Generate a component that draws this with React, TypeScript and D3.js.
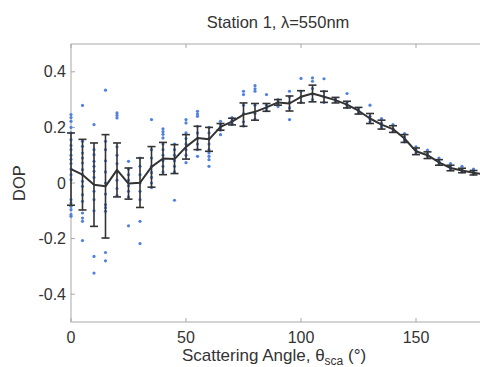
import * as d3 from "d3";

const angles = d3.range(0, 181, 5);
const means = [0.05, 0.03, -0.006, -0.012, 0.047, -0.002, 0.001, 0.058, 0.088, 0.086, 0.13, 0.162, 0.157,
  0.202, 0.221, 0.246, 0.256, 0.272, 0.29, 0.286, 0.31, 0.322, 0.31, 0.298, 0.282, 0.26, 0.232, 0.21,
  0.194, 0.16, 0.114, 0.1, 0.074, 0.054, 0.045, 0.037, 0.03];
const errs = [0.13, 0.127, 0.15, 0.186, 0.097, 0.056, 0.089, 0.073, 0.058, 0.052, 0.044, 0.042, 0.043,
  0.012, 0.012, 0.042, 0.03, 0.014, 0.01, 0.027, 0.022, 0.03, 0.02, 0.01, 0.012, 0.012, 0.018, 0.016,
  0.012, 0.014, 0.012, 0.012, 0.01, 0.01, 0.008, 0.008, 0.008];
const samples = [
  [0.246, 0.235, 0.222, 0.2, 0.18, 0.156, 0.135, 0.12, 0.1, 0.085, 0.07, 0.05, 0.03, 0.012, -0.06, -0.072, -0.084, -0.096, -0.114, -0.12],
  [0.279, 0.15, 0.132, 0.108, 0.09, 0.072, 0.048, 0.03, 0.006, -0.012, -0.042, -0.066, -0.108, -0.126, -0.138, -0.207],
  [0.21, 0.12, 0.102, 0.078, 0.06, 0.042, 0.02, -0.03, -0.06, -0.1, -0.264, -0.324],
  [0.334, 0.15, 0.12, 0.08, 0.04, 0.0, -0.04, -0.078, -0.089, -0.102, -0.25, -0.28],
  [0.252, 0.243, 0.234, 0.13, 0.1, 0.07, 0.04, 0.01, -0.02, -0.045],
  [0.078, 0.05, 0.03, 0.01, -0.01, -0.03, -0.05, -0.154],
  [0.09, 0.06, 0.03, 0.0, -0.03, -0.06, -0.138, -0.218],
  [0.228, 0.12, 0.09, 0.06, 0.037, 0.02, 0.0, -0.017],
  [0.195, 0.185, 0.175, 0.162, 0.14, 0.12, 0.1, 0.08, 0.06, 0.04],
  [0.14, 0.12, 0.1, 0.08, 0.06, 0.04, -0.062],
  [0.228, 0.216, 0.18, 0.16, 0.14, 0.12, 0.1, 0.073],
  [0.258, 0.248, 0.24, 0.204, 0.18, 0.16, 0.14, 0.12, 0.096],
  [0.2, 0.18, 0.16, 0.14, 0.12, 0.108, 0.096, 0.084, 0.06],
  [0.222, 0.21, 0.2, 0.19, 0.174],
  [0.235, 0.225, 0.215, 0.21],
  [0.33, 0.318, 0.28, 0.25, 0.22, 0.205],
  [0.35, 0.339, 0.33, 0.28, 0.25, 0.23],
  [0.318, 0.28, 0.27, 0.26],
  [0.3, 0.29, 0.282, 0.275],
  [0.33, 0.31, 0.29, 0.27, 0.228],
  [0.376, 0.33, 0.31, 0.29],
  [0.378, 0.366, 0.34, 0.32, 0.3],
  [0.375, 0.33, 0.31, 0.29],
  [0.302, 0.298, 0.294],
  [0.322, 0.29, 0.28, 0.272],
  [0.268, 0.26, 0.252],
  [0.28, 0.24, 0.23, 0.22],
  [0.232, 0.215, 0.205, 0.198],
  [0.21, 0.195, 0.185],
  [0.178, 0.165, 0.155, 0.148],
  [0.13, 0.118, 0.108],
  [0.118, 0.105, 0.095],
  [0.09, 0.078, 0.068],
  [0.07, 0.058, 0.048],
  [0.06, 0.048, 0.04],
  [0.05, 0.04, 0.032],
  [0.04, 0.03, 0.025],
];
const xTicks = [0, 50, 100, 150];
const yTicks = [-0.4, -0.2, 0, 0.2, 0.4];

const W = 480, H = 367;
const left = 71, top = 44, bottom = 322, right = 485;
const font = "Liberation Sans, Arial, Helvetica, sans-serif";
const textColor = "#333";
const axisColor = "#a8a8a8";

export default function App() {
  const x = d3.scaleLinear().domain([0, 180]).range([left, right]);
  const y = d3.scaleLinear().domain([-0.5, 0.5]).range([bottom, top]);

  const line = d3.line<number>()
    .x((d, i) => x(angles[i]))
    .y((d) => y(d));

  // plain hyphen for negatives, as in the original
  const fmtY = (v: number) => (v === 0 ? "0" : v.toFixed(1));

  return (
    <svg width={W} height={H} style={{ position: "absolute", left: 0, top: 0, background: "#fff" }}
      fontFamily={font}>
      {/* box */}
      <rect x={left} y={top} width={right - left} height={bottom - top} fill="none" stroke={axisColor} strokeWidth={1} />
      {xTicks.map((t) => (
        <g key={"xt" + t}>
          <line x1={x(t)} x2={x(t)} y1={bottom} y2={bottom - 4} stroke={axisColor} />
          <line x1={x(t)} x2={x(t)} y1={top} y2={top + 4} stroke={axisColor} />
          <text x={x(t)} y={343} textAnchor="middle" fontSize={16} fill={textColor}>{t}</text>
        </g>
      ))}
      {yTicks.map((t) => (
        <g key={"yt" + t}>
          <line x1={left} x2={left + 4} y1={y(t)} y2={y(t)} stroke={axisColor} />
          <text x={left - 5} y={y(t) + 5.5} textAnchor="end" fontSize={16} fill={textColor}>{fmtY(t)}</text>
        </g>
      ))}

      {/* scatter samples */}
      <g fill="#5080e0">
        {samples.map((vals, i) =>
          vals.map((v, j) => (
            <circle key={i + "-" + j} cx={x(angles[i])} cy={y(v)} r={1.6} />
          ))
        )}
      </g>

      {/* mean line */}
      <path d={line(means) ?? ""} fill="none" stroke="#333" strokeWidth={2} strokeLinejoin="round" />

      {/* error bars */}
      <g stroke="#333" strokeWidth={1.6} fill="none">
        {means.map((m, i) => {
          const cx = x(angles[i]);
          const y0 = y(m + errs[i]);
          const y1 = y(m - errs[i]);
          return (
            <g key={"e" + i}>
              <line x1={cx} x2={cx} y1={y0} y2={y1} />
              <line x1={cx - 4} x2={cx + 4} y1={y0} y2={y0} />
              <line x1={cx - 4} x2={cx + 4} y1={y1} y2={y1} />
            </g>
          );
        })}
      </g>

      <text x={278} y={28} textAnchor="middle" fontSize={16.5} fill={textColor}>Station 1, λ=550nm</text>
      <text transform={`translate(25,${(top + bottom) / 2}) rotate(-90)`} textAnchor="middle" fontSize={16.5} fill={textColor}>DOP</text>
      <text x={274} y={361} textAnchor="middle" fontSize={17} fill={textColor}>
        Scattering Angle, θ<tspan fontSize={12} dy={4}>sca</tspan><tspan dy={-4}> (°)</tspan>
      </text>
    </svg>
  );
}
